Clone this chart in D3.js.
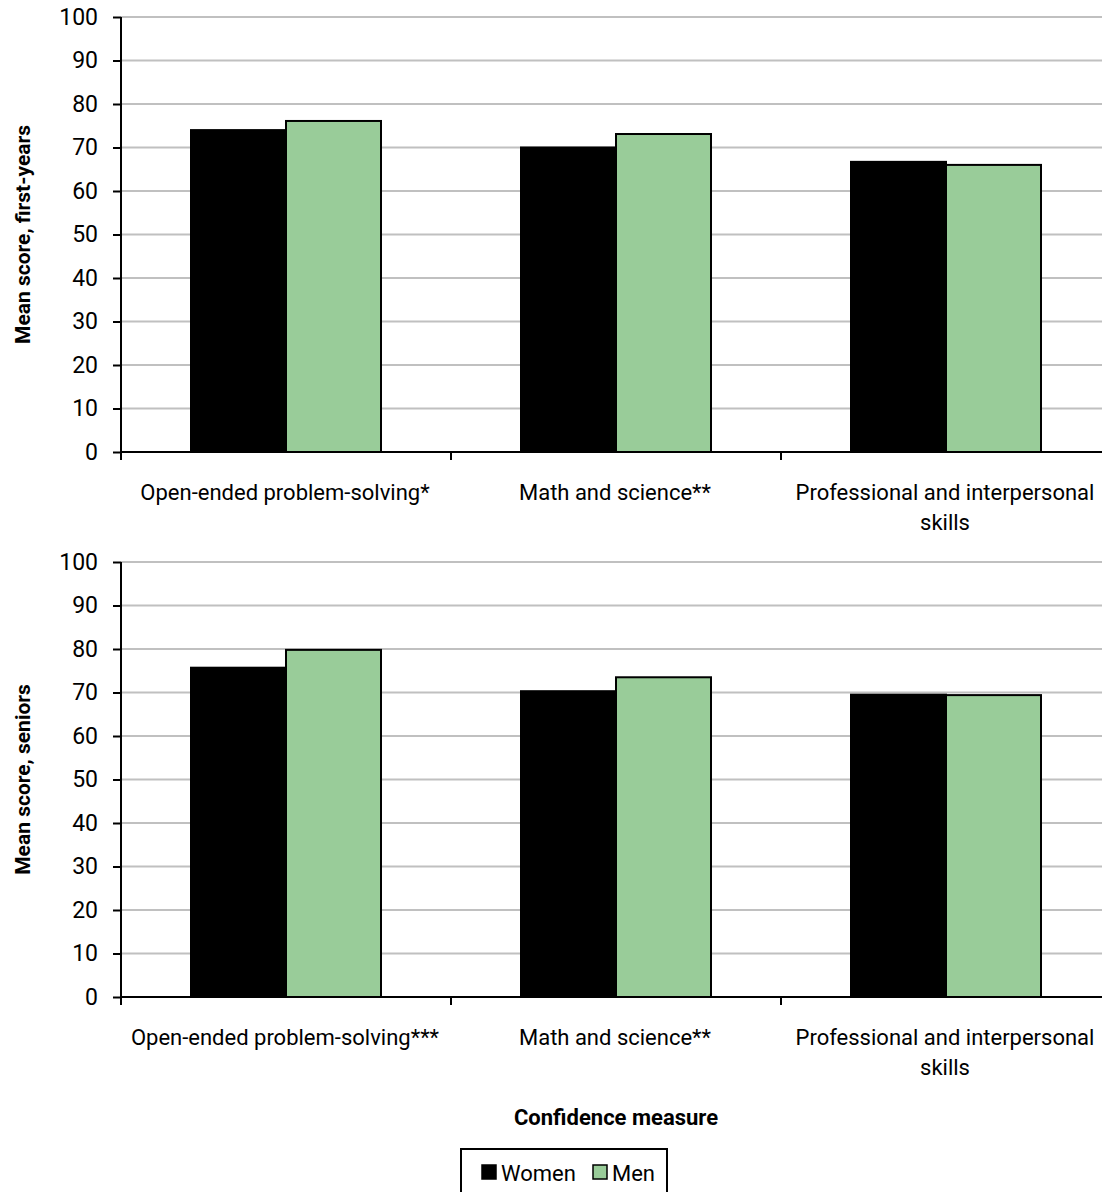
<!DOCTYPE html>
<html><head><meta charset="utf-8">
<script src="https://cdn.jsdelivr.net/npm/d3@7"></script>
<style>
body{margin:0;background:#fff;}
text{font-family:Roboto,"DejaVu Sans",sans-serif;}
</style></head>
<body><svg id="c" width="1102" height="1192"></svg>
<script>
const categoriesTop = ["Open-ended problem-solving*", "Math and science**", "Professional and interpersonal skills"];
const categoriesBottom = ["Open-ended problem-solving***", "Math and science**", "Professional and interpersonal skills"];
const seriesNames = ["Women", "Men"];
const seriesColors = ["#000000", "#99CC99"];
const womenFirstYears = [74.0, 70.0, 66.7];
const menFirstYears = [76.1, 73.1, 66.0];
const womenSeniors = [75.7, 70.3, 69.5];
const menSeniors = [79.8, 73.5, 69.4];
const yTicks = [0,10,20,30,40,50,60,70,80,90,100];
const yTitles = ["Mean score, first-years", "Mean score, seniors"];
const xTitle = "Confidence measure";

const svg = d3.select("#c");
const left = 121, right = 1111;
const TICKFONT = 23;
const LABELFONT = 22;

function panel(top, bottom, cats, women, men, ytitle) {
  const x = d3.scaleBand().domain(cats).range([left, right]).paddingInner(0).paddingOuter(0);
  const bw = 95;
  const outer = (x.bandwidth()/bw - 2)/2;
  const xs = d3.scaleBand().domain(seriesNames).range([0, x.bandwidth()]).paddingInner(0).paddingOuter(outer);
  const y = d3.scaleLinear().domain([0,100]).range([bottom, top]);
  const g = svg.append("g");
  g.selectAll(".grid").data(yTicks.filter(d=>d>0)).enter().append("line")
    .attr("x1", left).attr("x2", 1102).attr("y1", d=>y(d)).attr("y2", d=>y(d))
    .attr("stroke", "#c0c0c0").attr("stroke-width", 2);
  const data = cats.map((c,i)=>({c, vals:[women[i], men[i]]}));
  data.forEach(d=>{
    d.vals.forEach((v,j)=>{
      g.append("rect").attr("x", x(d.c)+xs(seriesNames[j])).attr("y", y(v))
        .attr("width", xs.bandwidth()).attr("height", y(0)-y(v))
        .attr("fill", seriesColors[j]).attr("stroke", "#000").attr("stroke-width", 2);
    });
  });
  const ya = g.append("g").attr("transform", `translate(${left},0)`)
    .call(d3.axisLeft(y).tickValues(yTicks).tickSize(8).tickPadding(15));
  ya.select(".domain").attr("stroke","#000").attr("stroke-width",2).attr("d", `M0,${bottom}V${top}`);
  ya.selectAll(".tick text").attr("font-size", TICKFONT).attr("fill","#000")
    .style("font-family", 'Roboto,"DejaVu Sans",sans-serif');
  ya.selectAll(".tick line").attr("stroke","#000").attr("stroke-width",2);
  g.append("line").attr("x1", left).attr("x2", 1102).attr("y1", bottom).attr("y2", bottom)
    .attr("stroke","#000").attr("stroke-width",2);
  cats.forEach(c=>{
    g.append("line").attr("x1", x(c)).attr("x2", x(c)).attr("y1", bottom).attr("y2", bottom+8)
      .attr("stroke","#000").attr("stroke-width",2);
  });
  cats.forEach(c=>{
    const cx = x(c) + x.bandwidth()/2 - 1;
    const lines = c === "Professional and interpersonal skills" ? ["Professional and interpersonal", "skills"] : [c];
    const t = g.append("text").attr("x", cx).attr("y", bottom+48).attr("text-anchor","middle")
      .attr("font-size", LABELFONT).attr("fill","#000");
    lines.forEach((l,i)=>t.append("tspan").attr("x", cx).attr("dy", i===0?0:30).text(l));
  });
  g.append("text").attr("transform", `translate(30,${(top+bottom)/2}) rotate(-90)`)
    .attr("text-anchor","middle").attr("font-size", 21).attr("font-weight","bold").attr("fill","#000")
    .text(ytitle);
}

panel(17, 452, categoriesTop, womenFirstYears, menFirstYears, yTitles[0]);
panel(562, 997, categoriesBottom, womenSeniors, menSeniors, yTitles[1]);

svg.append("text").attr("x", 616).attr("y", 1125).attr("text-anchor","middle")
  .attr("font-size", 22).attr("font-weight","bold").attr("fill","#000").text(xTitle);

const lg = svg.append("g");
lg.append("rect").attr("x", 461).attr("y", 1149).attr("width", 206).attr("height", 50)
  .attr("fill","#fff").attr("stroke","#000").attr("stroke-width",2);
const legendX = [482, 593];
seriesNames.forEach((s,i)=>{
  lg.append("rect").attr("x", legendX[i]).attr("y", 1165).attr("width", 14).attr("height", 14)
    .attr("fill", seriesColors[i]).attr("stroke","#000").attr("stroke-width",1.5);
  lg.append("text").attr("x", legendX[i]+19).attr("y", 1181).attr("font-size", LABELFONT).attr("fill","#000").text(s);
});
</script></body></html>
